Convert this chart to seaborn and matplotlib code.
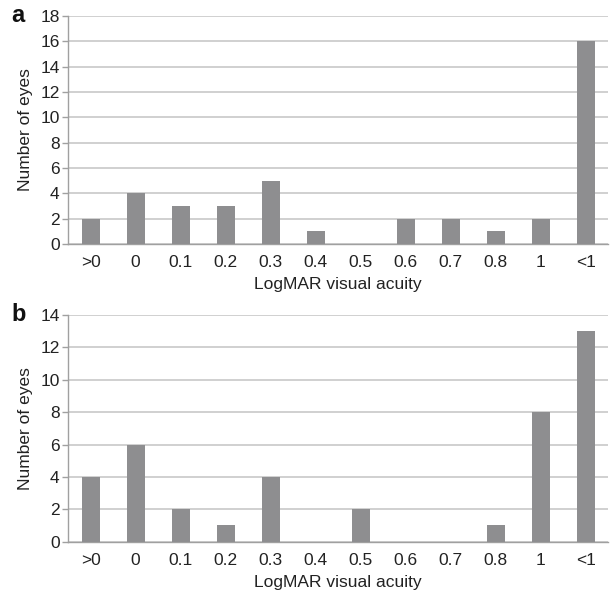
import matplotlib
matplotlib.use("Agg")
import matplotlib.pyplot as plt
import seaborn as sns
import pandas as pd

categories = [">0", "0", "0.1", "0.2", "0.3", "0.4", "0.5", "0.6", "0.7", "0.8", "1", "<1"]
counts_a = [2, 4, 3, 3, 5, 1, 0, 2, 2, 1, 2, 16]
counts_b = [4, 6, 2, 1, 4, 0, 2, 0, 0, 1, 8, 13]

sns.set_theme(style="white")
plt.rcParams['font.family'] = ['Liberation Sans', 'DejaVu Sans']

fig = plt.figure(figsize=(6.13, 5.92), dpi=100)
ax_a = fig.add_axes([0.111, 0.588, 0.881, 0.385])
ax_b = fig.add_axes([0.111, 0.085, 0.881, 0.383])

bar_color = "#8e8e90"
grid_color = "#c8c8c8"
fs = 12.5

for ax, counts, ymax, step, label in [(ax_a, counts_a, 18, 2, "a"), (ax_b, counts_b, 14, 2, "b")]:
    df = pd.DataFrame({"acuity": categories, "eyes": counts})
    sns.barplot(data=df, x="acuity", y="eyes", ax=ax, color=bar_color, width=0.4,
                saturation=1, linewidth=0, zorder=3)
    ax.set_ylim(0, ymax)
    ax.set_yticks(range(0, ymax + 1, step))
    ax.set_xlim(-0.5, len(categories) - 0.5)
    ax.yaxis.grid(True, color=grid_color, linewidth=1.2, zorder=0)
    ax.set_axisbelow(True)
    for s in ["top", "right"]:
        ax.spines[s].set_visible(False)
    for s in ["left", "bottom"]:
        ax.spines[s].set_color("#a0a0a0")
        ax.spines[s].set_linewidth(1.0)
    ax.tick_params(axis="y", which="both", left=True, length=4, width=1, color="#a0a0a0",
                   labelsize=fs, pad=2, labelcolor="#222222")
    ax.tick_params(axis="x", bottom=False, labelsize=fs, pad=2, labelcolor="#222222")
    ax.set_xlabel("LogMAR visual acuity", fontsize=fs, color="#222222", labelpad=5)
    ax.set_ylabel("Number of eyes", fontsize=fs, color="#222222", labelpad=5)
    ax.text(-0.105, 1.0, label, transform=ax.transAxes, fontsize=17, fontweight="bold",
            ha="left", va="center", color="#111111")

fig.savefig("out.png", dpi=100)
